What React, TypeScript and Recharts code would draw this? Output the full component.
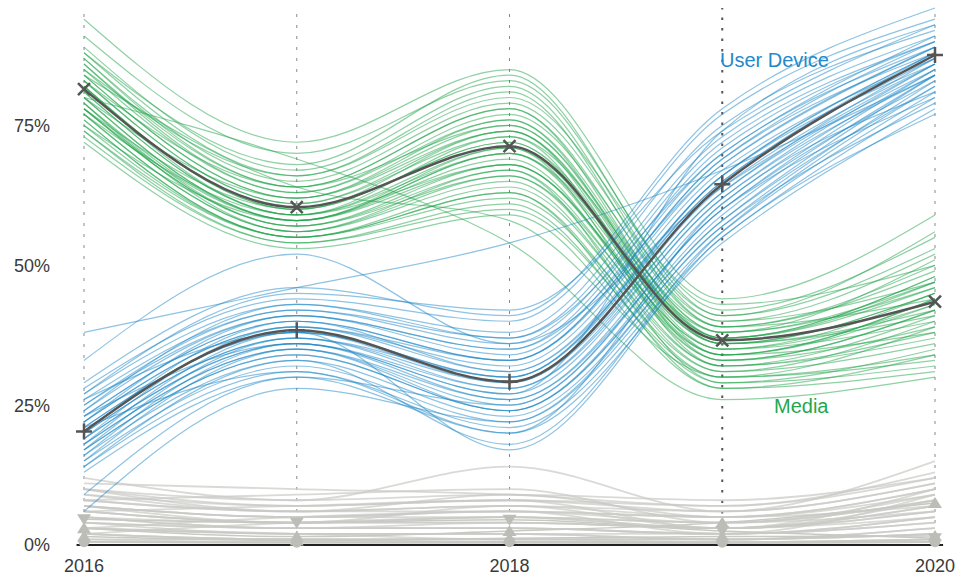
import { LineChart, Line, XAxis, YAxis, ReferenceLine } from "recharts";

const years = [2016, 2017, 2018, 2019, 2020];
const xTicks = [2016, 2018, 2020];
const yTicks = [0, 25, 50, 75];

// share of each item, one row per line: [2016, 2017, 2018, 2019, 2020]
const mediaLines = [
  [94, 72, 85, 44, 59],
  [91, 70, 83, 42, 55],
  [89, 67, 82, 40, 52],
  [88, 66, 80, 43, 50],
  [87, 65, 79, 41, 53],
  [86, 64, 78, 39, 49],
  [86, 63, 77, 40, 47],
  [85, 63, 76, 38, 51],
  [84, 62, 75, 38, 46],
  [84, 62, 74, 37, 48],
  [83, 61, 74, 36, 45],
  [83, 61, 73, 39, 44],
  [82, 60, 72, 37, 46],
  [82, 60, 72, 35, 43],
  [81, 59, 71, 36, 42],
  [81, 59, 70, 34, 44],
  [80, 58, 70, 36, 41],
  [80, 58, 69, 33, 42],
  [79, 58, 68, 35, 40],
  [79, 57, 68, 34, 43],
  [78, 57, 67, 33, 39],
  [78, 57, 66, 32, 41],
  [77, 56, 66, 34, 38],
  [77, 56, 65, 31, 40],
  [76, 55, 64, 32, 37],
  [76, 55, 63, 30, 39],
  [75, 55, 62, 31, 36],
  [74, 54, 61, 29, 35],
  [73, 54, 60, 30, 33],
  [72, 53, 59, 28, 34],
  [88, 68, 84, 41, 56],
  [85, 66, 81, 39, 50],
  [83, 64, 78, 37, 47],
  [80, 62, 76, 36, 45],
  [78, 60, 74, 34, 44],
  [77, 59, 73, 33, 42],
  [75, 58, 71, 32, 38],
  [84, 64, 58, 30, 34],
  [80, 69, 54, 26, 30],
  [74, 55, 63, 28, 31],
  [79, 56, 67, 29, 32],
  [87, 64, 75, 37, 48],
  [82, 59, 68, 35, 45],
  [78, 58, 70, 38, 47],
];

const deviceLines = [
  [28, 44, 40, 77, 94],
  [27, 43, 38, 75, 92],
  [26, 42, 37, 73, 91],
  [25, 42, 36, 72, 90],
  [25, 41, 35, 71, 90],
  [24, 41, 34, 70, 89],
  [23, 40, 33, 69, 88],
  [23, 40, 33, 68, 89],
  [22, 39, 32, 67, 87],
  [22, 39, 31, 66, 88],
  [21, 38, 30, 66, 86],
  [21, 38, 30, 65, 87],
  [20, 37, 29, 64, 86],
  [20, 37, 28, 63, 85],
  [19, 36, 28, 62, 86],
  [19, 36, 27, 62, 84],
  [18, 35, 26, 61, 85],
  [18, 35, 25, 60, 83],
  [17, 34, 24, 59, 84],
  [17, 34, 24, 58, 82],
  [16, 33, 23, 57, 83],
  [15, 32, 22, 56, 81],
  [14, 31, 21, 55, 80],
  [13, 30, 20, 54, 78],
  [27, 45, 42, 74, 93],
  [24, 43, 37, 70, 91],
  [22, 41, 35, 68, 89],
  [20, 40, 31, 65, 88],
  [18, 38, 29, 63, 87],
  [16, 36, 26, 60, 85],
  [15, 35, 24, 58, 84],
  [14, 33, 18, 56, 82],
  [33, 52, 36, 64, 86],
  [38, 46, 54, 67, 84],
  [9, 30, 25, 60, 80],
  [6, 28, 22, 57, 79],
  [26, 38, 17, 55, 77],
  [29, 46, 41, 78, 96],
  [21, 31, 20, 61, 81],
  [23, 36, 27, 74, 93],
  [19, 39, 33, 69, 90],
  [17, 37, 30, 66, 88],
];

const otherLines = [
  [12, 8, 14, 6, 15],
  [11, 10, 9, 7, 13],
  [10, 8, 9, 8, 12],
  [10, 7, 8, 6, 11],
  [9, 7, 8, 7, 12],
  [9, 6, 7, 5, 10],
  [8, 6, 7, 6, 11],
  [8, 6, 6, 5, 9],
  [7, 5, 6, 5, 10],
  [7, 5, 6, 4, 8],
  [7, 5, 5, 4, 9],
  [6, 4, 5, 4, 8],
  [6, 4, 5, 3, 7],
  [6, 4, 4, 3, 7],
  [5, 4, 4, 3, 6],
  [5, 3, 4, 3, 6],
  [5, 3, 3, 2, 5],
  [4, 3, 3, 2, 5],
  [4, 3, 3, 2, 4],
  [4, 2, 2, 2, 4],
  [3, 2, 2, 1, 3],
  [3, 2, 2, 1, 3],
  [3, 2, 1, 1, 2],
  [2, 1, 1, 1, 2],
  [2, 1, 1, 1, 2],
  [2, 1, 1, 0.5, 1],
  [1, 1, 0.5, 0.5, 1],
  [1, 0.5, 0.5, 0.5, 1],
  [0.5, 0.5, 0.5, 0.3, 0.5],
  [0.5, 0.3, 0.3, 0.3, 0.5],
  [8, 9, 10, 4, 6],
  [6, 7, 8, 3, 5],
  [3, 5, 6, 2, 9],
  [2, 4, 5, 3, 8],
  [10, 6, 9, 5, 7],
  [7, 4, 7, 3, 10],
];

const mediaMedian = [81.5, 60.4, 71.3, 36.6, 43.5];
const deviceMedian = [20.3, 38.4, 29.2, 64.5, 87.6];
const otherDown = [4.6, 4, 4.5, 2.5, 1.2];
const otherUp = [3, 1.5, 2.5, 4, 7.5];
const otherUpLow = [1.5, 0.8, 1.2, 1.5, 1.6];
const otherDot = [0.6, 0.5, 0.6, 0.5, 0.6];

const data = years.map((year, i) => {
  const row: Record<string, number> = { year };
  mediaLines.forEach((l, j) => (row[`m${j}`] = l[i]));
  deviceLines.forEach((l, j) => (row[`d${j}`] = l[i]));
  otherLines.forEach((l, j) => (row[`o${j}`] = l[i]));
  row.mediaMed = mediaMedian[i];
  row.deviceMed = deviceMedian[i];
  row.otherDown = otherDown[i];
  row.otherUp = otherUp[i];
  row.otherUpLow = otherUpLow[i];
  row.otherDot = otherDot[i];
  return row;
});

const FONT = "'Liberation Sans', Arial, sans-serif";
const GREEN = "#1fa34a";
const BLUE = "#1e88c8";
const GREY = "#c9c9c4";
const MARK = "#bdbdb8";
const DARK = "#555";

const CrossDot = (props: any) => {
  const { cx, cy } = props;
  if (cx == null || cy == null) return null;
  const s = 6;
  return (
    <path
      d={`M${cx - s},${cy - s}L${cx + s},${cy + s}M${cx - s},${cy + s}L${cx + s},${cy - s}`}
      stroke={DARK}
      strokeWidth={2.5}
      fill="none"
    />
  );
};

const PlusDot = (props: any) => {
  const { cx, cy } = props;
  if (cx == null || cy == null) return null;
  const s = 8;
  return (
    <path
      d={`M${cx - s},${cy}L${cx + s},${cy}M${cx},${cy - s}L${cx},${cy + s}`}
      stroke={DARK}
      strokeWidth={2.5}
      fill="none"
    />
  );
};

const UpDot = (props: any) => {
  const { cx, cy } = props;
  if (cx == null || cy == null) return null;
  return <path d={`M${cx},${cy - 6}L${cx + 7},${cy + 5}L${cx - 7},${cy + 5}Z`} fill={MARK} />;
};

const DownDot = (props: any) => {
  const { cx, cy } = props;
  if (cx == null || cy == null) return null;
  return <path d={`M${cx},${cy + 6}L${cx + 7},${cy - 5}L${cx - 7},${cy - 5}Z`} fill={MARK} />;
};

const RoundDot = (props: any) => {
  const { cx, cy } = props;
  if (cx == null || cy == null) return null;
  return <circle cx={cx} cy={cy} r={5.5} fill={MARK} />;
};

export default function App() {
  return (
    <div style={{ position: "absolute", left: 0, top: 0, width: 972, height: 578, fontFamily: FONT, background: "#fff" }}>
      <LineChart width={972} height={578} data={data} margin={{ top: 8, right: 37, left: 8, bottom: 0 }}>
        <XAxis
          dataKey="year"
          type="number"
          domain={[2016, 2020]}
          ticks={xTicks}
          axisLine={false}
          tickLine={false}
          tickSize={0}
          tickMargin={14}
          height={33}
          tick={{ fill: "#3a3a3a", fontSize: 18, fontFamily: FONT }}
        />
        <YAxis
          domain={[0, 96]}
          ticks={yTicks}
          tickFormatter={(v) => `${v}%`}
          axisLine={false}
          tickLine={false}
          tickSize={0}
          tickMargin={34}
          width={76}
          tick={{ fill: "#3a3a3a", fontSize: 18, fontFamily: FONT }}
        />
        {years.map((y) => (
          <ReferenceLine
            key={y}
            x={y}
            stroke={y === 2019 ? "#555" : "#8a8a8a"}
            strokeWidth={y === 2019 ? 2 : 1}
            strokeDasharray={y === 2019 ? "2.5 8" : "3 8"}
          />
        ))}
        {otherLines.map((_, j) => (
          <Line
            key={`o${j}`}
            dataKey={`o${j}`}
            type="monotone"
            stroke={GREY}
            strokeOpacity={0.7}
            strokeWidth={1.8}
            dot={false}
            activeDot={false}
            isAnimationActive={false}
          />
        ))}
        <Line dataKey="otherDown" type="monotone" stroke={GREY} strokeWidth={1.5} dot={<DownDot />} activeDot={false} isAnimationActive={false} />
        <Line dataKey="otherUp" type="monotone" stroke={GREY} strokeWidth={1.5} dot={<UpDot />} activeDot={false} isAnimationActive={false} />
        <Line dataKey="otherUpLow" type="monotone" stroke={GREY} strokeWidth={1.5} dot={<UpDot />} activeDot={false} isAnimationActive={false} />
        <Line dataKey="otherDot" type="monotone" stroke={GREY} strokeWidth={1.5} dot={<RoundDot />} activeDot={false} isAnimationActive={false} />
        {mediaLines.map((_, j) => (
          <Line
            key={`m${j}`}
            dataKey={`m${j}`}
            type="monotone"
            stroke={GREEN}
            strokeOpacity={0.5}
            strokeWidth={1.2}
            dot={false}
            activeDot={false}
            isAnimationActive={false}
          />
        ))}
        {deviceLines.map((_, j) => (
          <Line
            key={`d${j}`}
            dataKey={`d${j}`}
            type="monotone"
            stroke={BLUE}
            strokeOpacity={0.5}
            strokeWidth={1.2}
            dot={false}
            activeDot={false}
            isAnimationActive={false}
          />
        ))}
        <ReferenceLine
          segment={[
            { x: 2015.965, y: 0 },
            { x: 2020.038, y: 0 },
          ]}
          ifOverflow="visible"
          stroke="#222"
          strokeWidth={2}
        />
        <Line dataKey="mediaMed" type="monotone" stroke={DARK} strokeWidth={2.5} dot={<CrossDot />} activeDot={false} isAnimationActive={false} />
        <Line dataKey="deviceMed" type="monotone" stroke={DARK} strokeWidth={2.5} dot={<PlusDot />} activeDot={false} isAnimationActive={false} />
      </LineChart>
      <div style={{ position: "absolute", left: 720, top: 50, fontSize: 20, lineHeight: "20px", color: "#2389c9", whiteSpace: "nowrap" }}>
        User Device
      </div>
      <div style={{ position: "absolute", left: 774, top: 396, fontSize: 20, lineHeight: "20px", color: "#1fa84f", whiteSpace: "nowrap" }}>
        Media
      </div>
    </div>
  );
}
